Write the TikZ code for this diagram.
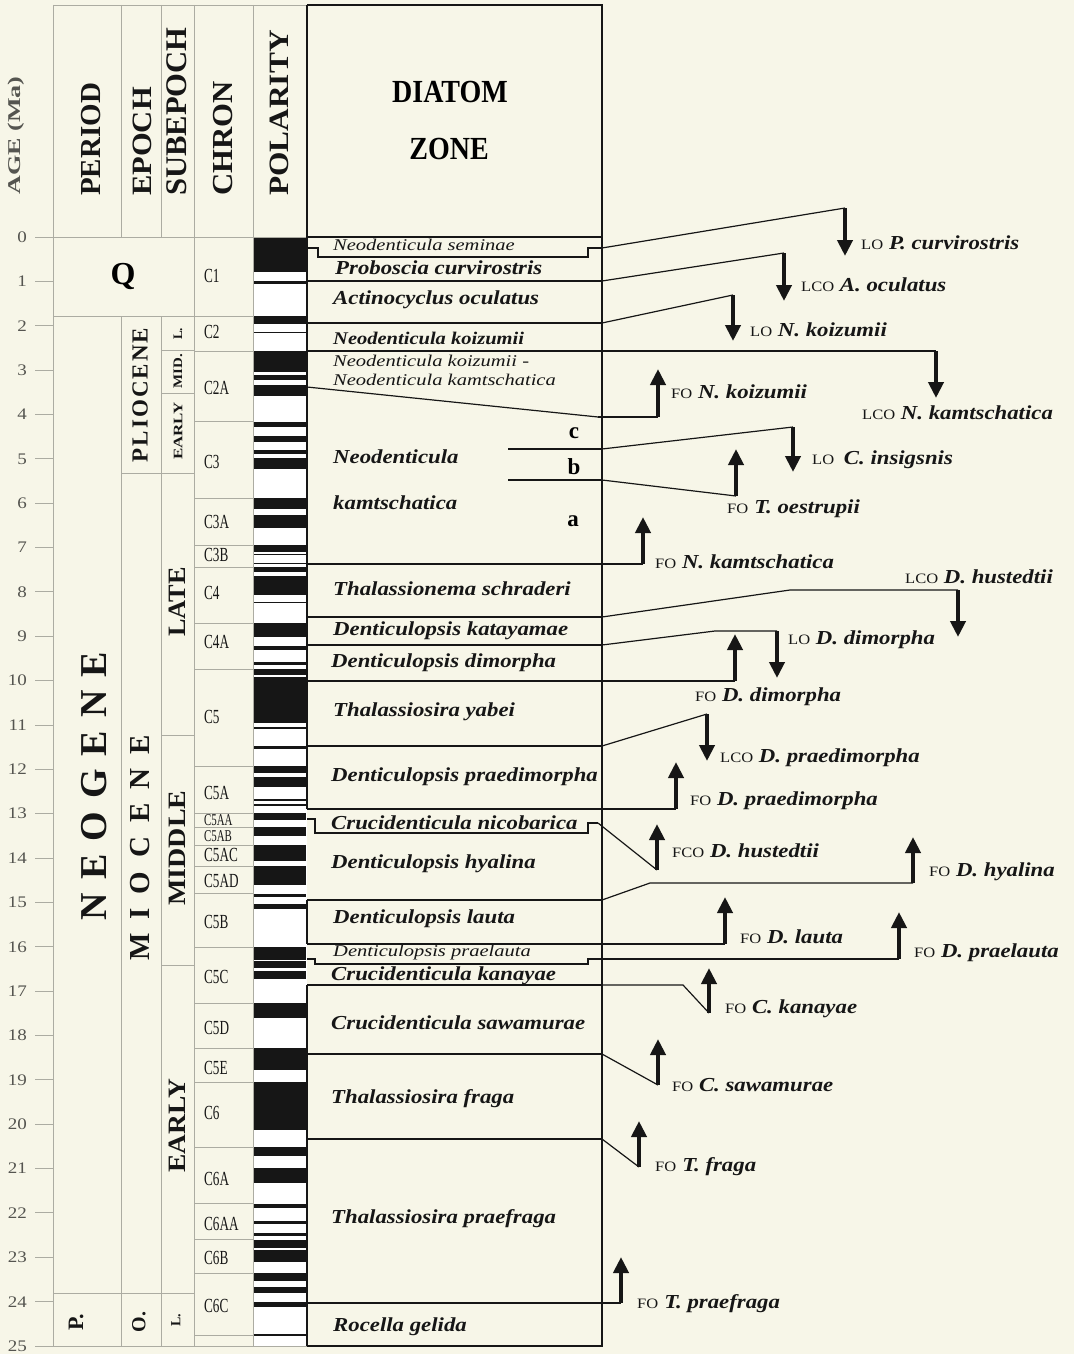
\documentclass[tikz,border=0pt]{standalone}
\usepackage{fontspec}
\usepackage{graphicx}
\setmainfont{Liberation Serif}
\usetikzlibrary{arrows.meta}
\definecolor{bg}{RGB}{247,246,232}
\definecolor{ink}{RGB}{22,22,22}
\definecolor{faint}{RGB}{172,172,162}
\definecolor{agegray}{RGB}{85,85,80}
\newcommand\fsz[1]{\fontsize{#1}{#1}\selectfont}
\newcommand\pre[1]{{\fsz{16.5}\mdseries\upshape #1}}
\begin{document}
\begin{tikzpicture}[x=1pt,y=-1pt,
  zl/.style={draw=ink,line width=1.2pt},
  fl/.style={draw=faint,line width=0.9pt},
  conn/.style={draw=ink,line width=1.2pt},
  arr/.style={draw=ink,line width=4.6pt,-{Triangle[length=16pt,width=15pt]}},
  zn/.style={anchor=west,inner sep=0,font=\fsz{22.8}\bfseries\itshape,yscale=0.87,text=ink},
  znt/.style={anchor=west,inner sep=0,font=\fsz{20.5}\itshape,yscale=0.8,text=ink},
  ev/.style={anchor=west,inner sep=0,font=\fsz{22.8}\bfseries\itshape,yscale=0.87,text=ink},
  hd/.style={rotate=90,anchor=west,inner sep=0,text=ink},
  rt/.style={rotate=90,anchor=center,inner sep=0,text=ink},
  chr/.style={anchor=west,inner sep=0,font=\fsz{20},xscale=0.66,text=ink},
  chrs/.style={anchor=west,inner sep=0,font=\fsz{16.5},xscale=0.66,text=ink},
]
\fill[bg] (0,0) rectangle (1074,1354);
\useasboundingbox (0,0) rectangle (1074,1354);

% polarity column
\fill[white] (253,237) rectangle (307,1346);
\foreach \a/\b in {0/0.78,0.99/1.07,1.77/1.95,2.14/2.165,2.581/3.04,3.11/3.22,3.33/3.58,
  4.18/4.29,4.48/4.62,4.8/4.89,4.98/5.23,5.894/6.137,6.269/6.567,6.935/7.091,7.135/7.17,
  7.341/7.375,7.432/7.562,7.65/8.072,8.225/8.257,8.699/9.025,9.23/9.308,9.58/9.642,
  9.74/9.88,9.92/10.949,11.052/11.099,11.476/11.531,11.935/12.078,12.184/12.401,
  12.678/12.708,12.775/12.819,12.991/13.139,13.302/13.51,13.703/14.076,14.178/14.612,
  14.8/14.888,15.034/15.155,16.014/16.293,16.327/16.488,16.556/16.726,17.277/17.615,
  18.281/18.781,19.048/20.131,20.518/20.725,20.996/21.32,21.80/21.89,22.18/22.25,
  22.45/22.52,22.61/22.79,22.84/23.11,23.353/23.535,23.677/23.8,23.999/24.118,24.73/24.781}
  \fill[ink] (253,{237+44.36*\a}) rectangle (306,{237+44.36*\b});

% faint column frame
\draw[fl] (53,5) -- (307,5);
\draw[fl] (53,5) -- (53,1346);
\draw[fl] (121,5) -- (121,237) (121,316) -- (121,1346);
\draw[fl] (161,5) -- (161,237) (161,316) -- (161,1346);
\draw[fl] (194,5) -- (194,1346);
\draw[fl] (253,5) -- (253,1346);
\draw[fl] (35,237) -- (307,237);
\draw[fl] (35,1346) -- (307,1346);
\draw[fl] (53,316) -- (253,316);
\draw[fl] (121,473) -- (194,473);
\draw[fl] (161,350) -- (194,350) (161,393) -- (194,393);
\draw[fl] (161,735) -- (194,735) (161,965) -- (194,965);
\draw[fl] (53,1293) -- (194,1293);
\foreach \yy in {351.5,421,498,545,567,623,669,766.5,813,827,845,866,893.5,947,1003,1048,1082,1147,1203,1239,1273,1335}
  \draw[fl] (194,\yy) -- (253,\yy);

% age scale
\foreach \a in {0,...,25} {
  \draw[fl] (35,{237+44.36*\a}) -- (53,{237+44.36*\a});
  \node[anchor=east,inner sep=0,font=\fsz{19},yscale=0.85,text=agegray] (age\a) at (27,{237+44.36*\a}) {\a};
}

% headers
\node[hd,font=\fsz{18}\bfseries,text=agegray,xscale=1.45] (hage) at (16,195) {AGE (Ma)};
\node[hd,font=\fsz{29}\bfseries] (hper) at (91,196) {PERIOD};
\node[hd,font=\fsz{28}\bfseries,xscale=1.09] (hepo) at (142,196) {EPOCH};
\node[hd,font=\fsz{30}\bfseries,xscale=1.02] (hsub) at (177,196) {SUBEPOCH};
\node[hd,font=\fsz{29}\bfseries,xscale=1.06] (hchr) at (223,196) {CHRON};
\node[hd,font=\fsz{28}\bfseries,xscale=1.12] (hpol) at (279,196) {POLARITY};
\node[font=\fsz{28}\bfseries,yscale=1.15,inner sep=0] (hdia) at (450,92) {DIATOM};
\node[font=\fsz{28}\bfseries,yscale=1.15,inner sep=0] (hzon) at (449,149) {ZONE};

% period / epoch / subepoch
\node[font=\fsz{32}\bfseries,inner sep=0] (q) at (123,276) {Q};
\node[rt,font=\fsz{38}\bfseries] (neo) at (94,786) {N\hspace{13pt}E\hspace{13pt}O\hspace{13pt}G\hspace{13pt}E\hspace{13pt}N\hspace{13pt}E};
\node[rt,font=\fsz{29}\bfseries] (mio) at (140,848) {M\hspace{14pt}I\hspace{14pt}O\hspace{14pt}C\hspace{14pt}E\hspace{14pt}N\hspace{14pt}E};
\node[rt,font=\fsz{23}\bfseries] (plio) at (140,395) {P\hspace{2pt}L\hspace{2pt}I\hspace{2pt}O\hspace{2pt}C\hspace{2pt}E\hspace{2pt}N\hspace{2pt}E};
\node[rt,font=\fsz{13}\bfseries] (pl) at (178,334) {L.};
\node[rt,font=\fsz{13}\bfseries,xscale=1.15] (pm) at (178,371) {MID.};
\node[rt,font=\fsz{13}\bfseries,xscale=1.3] (pe) at (178,431) {EARLY};
\node[rt,font=\fsz{25}\bfseries,xscale=1.05] (ml) at (177,602) {LATE};
\node[rt,font=\fsz{25}\bfseries,xscale=1.12] (mm) at (177,848) {MIDDLE};
\node[rt,font=\fsz{25}\bfseries,xscale=1.1] (me) at (177,1126) {EARLY};
\node[rt,font=\fsz{22}\bfseries] (pp) at (76,1322) {P.};
\node[rt,font=\fsz{20}\bfseries] (po) at (139,1322) {O.};
\node[rt,font=\fsz{14}\bfseries] (plt) at (176,1320) {L.};

% chrons
\foreach \lab/\yy in {C1/276,C2/332,C2A/388,C3/462,C3A/522,C3B/555,C4/593,C4A/642,C5/717,C5A/793,
  C5AC/855,C5AD/881,C5B/922,C5C/977,C5D/1028,C5E/1068,C6/1113,C6A/1179,C6AA/1224,C6B/1258,C6C/1306}
  \node[chr] (ch\lab) at (204,\yy) {\lab};
\node[chrs] (chC5AA) at (204,820) {C5AA};
\node[chrs] (chC5AB) at (204,836) {C5AB};

% diatom zone box
\draw[zl] (307,5) -- (602,5) -- (602,1346) -- (307,1346);
\draw[zl] (307,5) -- (307,809) (307,900) -- (307,944) (307,985) -- (307,1346);
\draw[zl] (307,237) -- (602,237);
\foreach \yy in {281,323,351,564,617,645,681,746,809,900,944,985,1054,1139,1303}
  \draw[zl] (307,\yy) -- (602,\yy);
\draw[zl] (307,248) -- (318,248) -- (318,257) -- (588,257) -- (588,248) -- (602,248);
\draw[zl] (307,819) -- (315,819) -- (315,833) -- (588,833) -- (588,823) -- (598,823);
\draw[zl] (307,959) -- (315,959) -- (315,964) -- (588,964) -- (588,959) -- (602,959);
\draw[zl] (307,387) -- (598,417);
\draw[zl] (508,449) -- (602,449) (508,480) -- (602,480);

% zone names
\node[znt] (z1) at (333,245) {Neodenticula seminae};
\node[zn] (z2) at (335,268) {Proboscia curvirostris};
\node[zn] (z3) at (333,300) {Actinocyclus oculatus};
\node[zn,font=\fsz{20.5}\bfseries\itshape] (z4) at (333,338) {Neodenticula koizumii};
\node[znt] (z5a) at (333,361) {Neodenticula koizumii -};
\node[znt] (z5b) at (333,380) {Neodenticula kamtschatica};
\node[zn] (z6a) at (333,457) {Neodenticula};
\node[zn] (z6b) at (333,503) {kamtschatica};
\node[font=\fsz{23}\bfseries,inner sep=0] (sc) at (574,433) {c};
\node[font=\fsz{23}\bfseries,inner sep=0] (sb) at (574,467) {b};
\node[font=\fsz{23}\bfseries,inner sep=0] (sa) at (573,521) {a};
\node[zn] (z7) at (333,589) {Thalassionema schraderi};
\node[zn] (z8) at (333,631) {Denticulopsis katayamae};
\node[zn] (z9) at (331,663) {Denticulopsis dimorpha};
\node[zn] (z10) at (333,712) {Thalassiosira yabei};
\node[zn] (z11) at (331,777) {Denticulopsis praedimorpha};
\node[zn] (z12) at (331,823) {Crucidenticula nicobarica};
\node[zn] (z13) at (331,864) {Denticulopsis hyalina};
\node[zn] (z14) at (333,919) {Denticulopsis lauta};
\node[znt] (z15) at (333,953) {Denticulopsis praelauta};
\node[zn] (z16) at (331,976) {Crucidenticula kanayae};
\node[zn] (z17) at (331,1023) {Crucidenticula sawamurae};
\node[zn] (z18) at (331,1099) {Thalassiosira fraga};
\node[zn] (z19) at (331,1219) {Thalassiosira praefraga};
\node[zn] (z20) at (333,1327) {Rocella gelida};

% events: coordinates
\coordinate (s1) at (602,248);  \coordinate (b1) at (845,208);  \coordinate (t1) at (845,256);
\coordinate (s2) at (602,281);  \coordinate (b2) at (784,253);  \coordinate (t2) at (784,301);
\coordinate (s3) at (602,323);  \coordinate (b3) at (733,295);  \coordinate (t3) at (733,341);
\coordinate (s4) at (602,351);  \coordinate (b4) at (936,351);  \coordinate (t4) at (936,398);
\coordinate (s5) at (598,417);  \coordinate (b5) at (658,417);  \coordinate (t5) at (658,369);
\coordinate (s6) at (602,449);  \coordinate (b6) at (793,427);  \coordinate (t6) at (793,472);
\coordinate (s7) at (602,480);  \coordinate (b7) at (736,496);  \coordinate (t7) at (736,449);
\coordinate (s8) at (602,564);  \coordinate (b8) at (643,564);  \coordinate (t8) at (643,517);
\coordinate (s9) at (602,617);  \coordinate (m9) at (790,590);  \coordinate (b9) at (958,590);  \coordinate (t9) at (958,637);
\coordinate (s10) at (602,645); \coordinate (m10) at (715,631); \coordinate (b10) at (777,631); \coordinate (t10) at (777,678);
\coordinate (s11) at (602,681); \coordinate (b11) at (735,681); \coordinate (t11) at (735,634);
\coordinate (s12) at (602,746); \coordinate (b12) at (707,714); \coordinate (t12) at (707,761);
\coordinate (s13) at (602,809); \coordinate (b13) at (676,809); \coordinate (t13) at (676,762);
\coordinate (s14) at (598,823); \coordinate (b14) at (657,870); \coordinate (t14) at (657,824);
\coordinate (s15) at (602,900); \coordinate (m15) at (650,883); \coordinate (b15) at (913,883); \coordinate (t15) at (913,837);
\coordinate (s16) at (602,944); \coordinate (b16) at (725,944); \coordinate (t16) at (725,897);
\coordinate (s17) at (602,959); \coordinate (b17) at (899,959); \coordinate (t17) at (899,912);
\coordinate (s18) at (602,985); \coordinate (m18) at (683,985); \coordinate (b18) at (709,1013); \coordinate (t18) at (709,968);
\coordinate (s19) at (602,1054); \coordinate (b19) at (658,1085); \coordinate (t19) at (658,1039);
\coordinate (s20) at (602,1139); \coordinate (b20) at (639,1167); \coordinate (t20) at (639,1121);
\coordinate (s21) at (602,1303); \coordinate (b21) at (621,1303); \coordinate (t21) at (621,1257);

\foreach \i in {1,2,3,4,5,6,7,8,11,12,13,14,16,17,19,20,21}
  \draw[conn] (s\i) -- (b\i);
\foreach \i in {9,10,15,18}
  \draw[conn] (s\i) -- (m\i) -- (b\i);
\foreach \i in {1,...,21}
  \draw[arr] (b\i) -- (t\i);

% event labels
\node[ev] (l1) at (861,243) {\pre{LO}\hspace{6pt}P. curvirostris};
\node[ev] (l2) at (801,285) {\pre{LCO} A. oculatus};
\node[ev] (l3) at (750,330) {\pre{LO} N. koizumii};
\node[ev] (l4) at (862,413) {\pre{LCO} N. kamtschatica};
\node[ev] (l5) at (671,392) {\pre{FO} N. koizumii};
\node[ev] (l6) at (812,460) {\pre{LO}\hspace{4pt} C. insigsnis};
\node[ev] (l7) at (727,509) {\pre{FO}\hspace{6pt}T. oestrupii};
\node[ev] (l8) at (655,562) {\pre{FO} N. kamtschatica};
\node[ev] (l9) at (905,577) {\pre{LCO} D. hustedtii};
\node[ev] (l10) at (788,640) {\pre{LO} D. dimorpha};
\node[ev] (l11) at (695,697) {\pre{FO} D. dimorpha};
\node[ev] (l12) at (720,758) {\pre{LCO} D. praedimorpha};
\node[ev] (l13) at (690,801) {\pre{FO} D. praedimorpha};
\node[ev] (l14) at (672,851) {\pre{FCO} D. hustedtii};
\node[ev] (l15) at (929,872) {\pre{FO} D. hyalina};
\node[ev] (l16) at (740,937) {\pre{FO} D. lauta};
\node[ev] (l17) at (914,953) {\pre{FO} D. praelauta};
\node[ev] (l18) at (725,1009) {\pre{FO} C. kanayae};
\node[ev] (l19) at (672,1085) {\pre{FO} C. sawamurae};
\node[ev] (l20) at (655,1167) {\pre{FO}\hspace{6pt}T. fraga};
\node[ev] (l21) at (637,1304) {\pre{FO}\hspace{6pt}T. praefraga};
\end{tikzpicture}
\end{document}
